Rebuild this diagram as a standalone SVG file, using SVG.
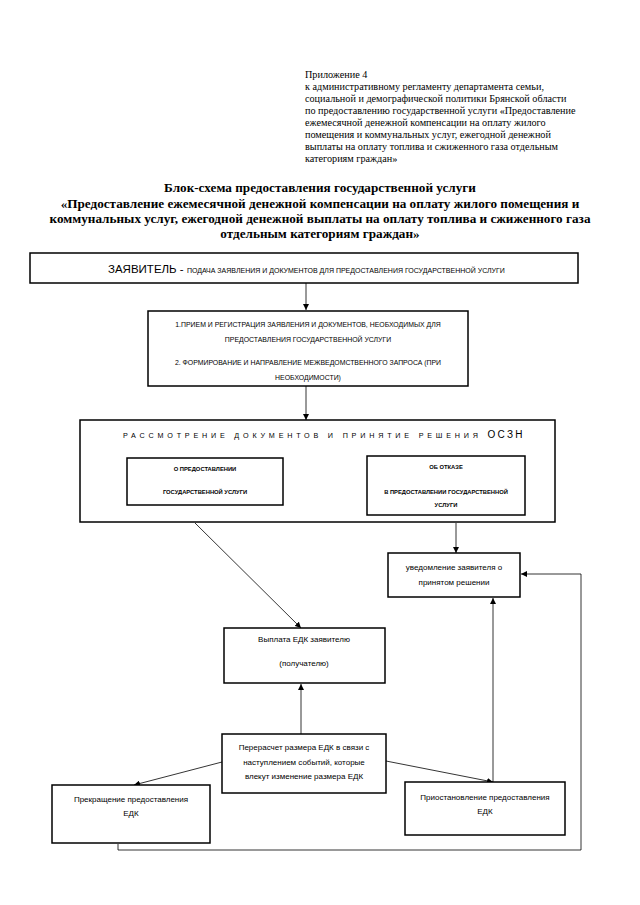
<svg xmlns="http://www.w3.org/2000/svg" width="640" height="905" viewBox="0 0 640 905">
<defs>
<marker id="ah" viewBox="0 0 10 10" refX="10" refY="5" markerWidth="6" markerHeight="6" markerUnits="userSpaceOnUse" orient="auto">
<path d="M0,0 L10,5 L0,10 Z" fill="#000"/>
</marker>
<style>
.hdr{font-family:"Liberation Serif",serif;font-size:10.2px;fill:#000}
.ttl{font-family:"Liberation Serif",serif;font-size:13.2px;font-weight:bold;fill:#000;text-anchor:middle}
.box{fill:#fff;stroke:#000;stroke-width:1.5}
.t{font-family:"Liberation Sans",Arial,sans-serif;fill:#000;text-anchor:middle}
.sc{font-size:6.9px}
.sm{font-size:8px}
.b{font-weight:bold;font-size:5.8px}
.c{fill:none;stroke:#000;stroke-width:0.8}
</style>
</defs>
<rect width="640" height="905" fill="#fff"/>
<g id="header">
<text class="hdr" x="305" y="78">Приложение 4</text>
<text class="hdr" x="305" y="90">к административному регламенту департамента семьи,</text>
<text class="hdr" x="305" y="102">социальной и демографической политики Брянской области</text>
<text class="hdr" x="305" y="114">по предоставлению государственной услуги «Предоставление</text>
<text class="hdr" x="305" y="126">ежемесячной денежной компенсации на оплату жилого</text>
<text class="hdr" x="305" y="138">помещения и коммунальных услуг, ежегодной денежной</text>
<text class="hdr" x="305" y="150">выплаты на оплату топлива и сжиженного газа отдельным</text>
<text class="hdr" x="305" y="162">категориям граждан»</text>
</g>
<g id="title">
<text class="ttl" x="320" y="192">Блок-схема предоставления государственной услуги</text>
<text class="ttl" x="320" y="208">«Предоставление ежемесячной денежной компенсации на оплату жилого помещения и</text>
<text class="ttl" x="320" y="223">коммунальных  услуг, ежегодной денежной выплаты на оплату топлива и сжиженного газа</text>
<text class="ttl" x="320" y="238">отдельным категориям граждан»</text>
</g>
<g id="connectors">
<line class="c" x1="306" y1="283" x2="306" y2="310" marker-end="url(#ah)"/>
<line class="c" x1="306" y1="386" x2="306" y2="420" marker-end="url(#ah)"/>
<line class="c" x1="195" y1="523" x2="301" y2="628" marker-end="url(#ah)"/>
<line class="c" x1="456" y1="523" x2="456" y2="553" marker-end="url(#ah)"/>
<line class="c" x1="301" y1="734" x2="301" y2="684" marker-end="url(#ah)"/>
<line class="c" x1="222" y1="762" x2="134" y2="785" marker-end="url(#ah)"/>
<line class="c" x1="386" y1="761" x2="493" y2="782" marker-end="url(#ah)"/>
<line class="c" x1="493" y1="782" x2="493" y2="598" marker-end="url(#ah)"/>
<polyline class="c" points="118,844 118,850 581,850 581,574 521,574" marker-end="url(#ah)"/>
</g>
<g id="applicant">
<rect class="box" x="30" y="253" width="548" height="30"/>
<text x="108" y="273" font-family="Liberation Sans,Arial,sans-serif" fill="#000"><tspan font-size="11.5">ЗАЯВИТЕЛЬ - </tspan><tspan font-size="7">ПОДАЧА ЗАЯВЛЕНИЯ И ДОКУМЕНТОВ  ДЛЯ ПРЕДОСТАВЛЕНИЯ ГОСУДАРСТВЕННОЙ УСЛУГИ</tspan></text>
</g>
<g id="reception">
<rect class="box" x="148" y="311" width="320" height="75"/>
<text class="t sc" x="308" y="327">1.ПРИЕМ И РЕГИСТРАЦИЯ ЗАЯВЛЕНИЯ И  ДОКУМЕНТОВ, НЕОБХОДИМЫХ ДЛЯ</text>
<text class="t sc" x="308" y="342">ПРЕДОСТАВЛЕНИЯ ГОСУДАРСТВЕННОЙ УСЛУГИ</text>
<text class="t sc" x="308" y="365">2. ФОРМИРОВАНИЕ  И НАПРАВЛЕНИЕ МЕЖВЕДОМСТВЕННОГО ЗАПРОСА (ПРИ</text>
<text class="t sc" x="308" y="380">НЕОБХОДИМОСТИ)</text>
</g>
<g id="review">
<rect class="box" x="80" y="420" width="475" height="102"/>
<text x="123" y="438" font-family="Liberation Sans,Arial,sans-serif" fill="#000"><tspan font-size="7.2" letter-spacing="3.8">РАССМОТРЕНИЕ ДОКУМЕНТОВ И ПРИНЯТИЕ РЕШЕНИЯ </tspan><tspan font-size="10" letter-spacing="2.2">ОСЗН</tspan></text>
</g>
<g id="grant">
<rect class="box" x="127" y="458" width="156" height="47"/>
<text class="t b" x="205" y="471">О ПРЕДОСТАВЛЕНИИ</text>
<text class="t b" x="205" y="494">ГОСУДАРСТВЕННОЙ УСЛУГИ</text>
</g>
<g id="refusal">
<rect class="box" x="367" y="456" width="158" height="59"/>
<text class="t b" x="446" y="469">ОБ  ОТКАЗЕ</text>
<text class="t b" x="446" y="494">В  ПРЕДОСТАВЛЕНИИ ГОСУДАРСТВЕННОЙ</text>
<text class="t b" x="446" y="507">УСЛУГИ</text>
</g>
<g id="notify">
<rect class="box" x="388" y="553" width="132" height="44"/>
<text class="t sm" x="454" y="570">уведомление заявителя о</text>
<text class="t sm" x="454" y="585">принятом решении</text>
</g>
<g id="payment">
<rect class="box" x="224" y="628" width="161" height="55"/>
<text class="t sm" x="304" y="642">Выплата ЕДК заявителю</text>
<text class="t sm" x="304" y="666">(получателю)</text>
</g>
<g id="recalc">
<rect class="box" x="222" y="734" width="164" height="59"/>
<text class="t sm" x="304" y="750">Перерасчет  размера ЕДК в связи с</text>
<text class="t sm" x="304" y="765">наступлением событий, которые</text>
<text class="t sm" x="304" y="779">влекут изменение размера ЕДК</text>
</g>
<g id="termination">
<rect class="box" x="52" y="785" width="158" height="58"/>
<text class="t sm" x="131" y="802">Прекращение  предоставления</text>
<text class="t sm" x="131" y="816">ЕДК</text>
</g>
<g id="suspension">
<rect class="box" x="405" y="782" width="160" height="53"/>
<text class="t sm" x="485" y="800">Приостановление предоставления</text>
<text class="t sm" x="485" y="814">ЕДК</text>
</g>
</svg>
